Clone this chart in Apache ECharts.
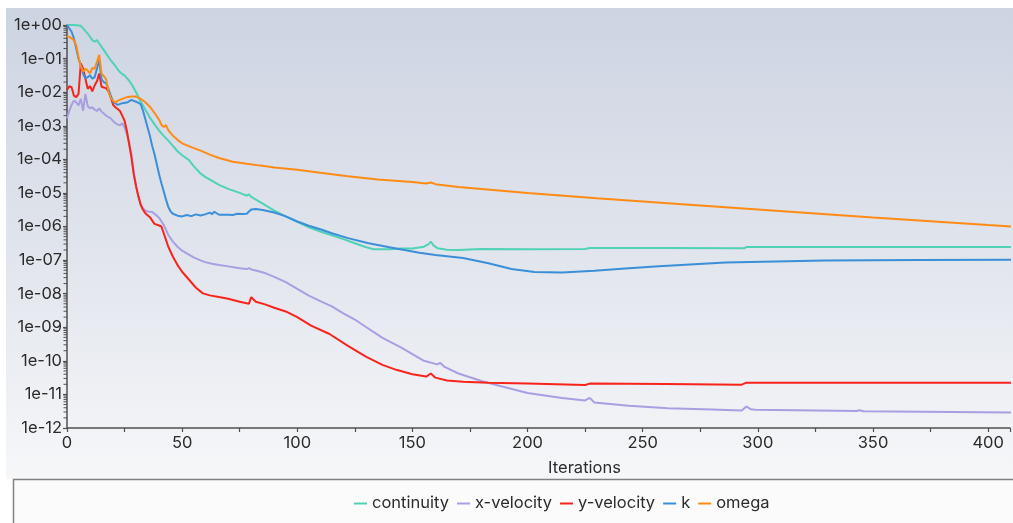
<!DOCTYPE html>
<html>
<head>
<meta charset="utf-8">
<script src="https://cdn.jsdelivr.net/npm/echarts@6/dist/echarts.min.js"></script>
<style>
  html, body { margin: 0; padding: 0; background: #ffffff; }
  #chart { width: 1013px; height: 523px; }
</style>
</head>
<body>
<div id="chart"></div>
<script>
// Residual history of the solver, one iteration array per equation.
const seriesNames = ['continuity', 'x-velocity', 'y-velocity', 'k', 'omega'];
const seriesColors = ['#4fd2b5', '#a99ee2', '#f8231b', '#3a8fd8', '#ff8a14'];

const continuityIter = [0, 3, 6, 7, 8, 9, 10, 11, 12, 13, 14, 15, 16, 17, 18, 19, 20, 21, 22, 23, 24, 25, 26, 27, 28, 29, 30, 31, 32, 33, 34, 35, 36, 38, 40, 42, 44, 46, 48, 50, 53, 55, 58, 60, 63, 66, 70, 75, 78, 79, 80, 85, 90, 95, 100, 105, 110, 115, 120, 125, 130, 133, 140, 145, 150, 155, 157, 158, 159, 161, 165, 170, 180, 200, 225, 227, 260, 294, 295, 410];
const continuity = [1.0, 1.0, 0.95, 0.79, 0.66, 0.55, 0.447, 0.355, 0.316, 0.355, 0.282, 0.224, 0.178, 0.141, 0.112, 8.9e-2, 7.4e-2, 6.0e-2, 4.8e-2, 3.98e-2, 3.47e-2, 3.16e-2, 2.63e-2, 2.19e-2, 1.74e-2, 1.32e-2, 1.0e-2, 7.2e-3, 5.2e-3, 3.98e-3, 3.0e-3, 2.3e-3, 1.74e-3, 1.1e-3, 7.2e-4, 5.0e-4, 3.6e-4, 2.5e-4, 1.74e-4, 1.32e-4, 9.5e-5, 6.3e-5, 3.8e-5, 3.0e-5, 2.3e-5, 1.74e-5, 1.32e-5, 1.0e-5, 8.3e-6, 9.1e-6, 7.6e-6, 4.8e-6, 2.95e-6, 2.0e-6, 1.38e-6, 9.5e-7, 7.1e-7, 5.5e-7, 4.2e-7, 3.16e-7, 2.4e-7, 2.1e-7, 2.1e-7, 2.2e-7, 2.2e-7, 2.5e-7, 3.0e-7, 3.55e-7, 2.8e-7, 2.24e-7, 2.04e-7, 2.0e-7, 2.14e-7, 2.1e-7, 2.14e-7, 2.3e-7, 2.3e-7, 2.24e-7, 2.45e-7, 2.45e-7];

const xVelocityIter = [0, 1, 2, 3, 4, 5, 6, 7, 8, 9, 10, 11, 12, 13, 14, 15, 16, 17, 18, 19, 20, 21, 22, 23, 24, 25, 26, 27, 28, 29, 30, 31, 32, 33, 34, 35, 36, 37, 38, 40, 42, 44, 46, 48, 50, 52, 55, 58, 60, 63, 66, 70, 75, 78, 79, 80, 82, 86, 90, 95, 100, 105, 110, 115, 120, 125, 130, 137, 145, 150, 155, 160, 161, 162, 164, 170, 180, 186, 200, 215, 225, 227, 229, 244, 261, 280, 293, 295, 297, 299, 343, 344, 346, 410];
const xVelocity = [1.66e-3, 2.8e-3, 4.2e-3, 5.6e-3, 5.0e-3, 4.0e-3, 6.3e-3, 2.8e-3, 8.9e-3, 3.8e-3, 3.3e-3, 3.55e-3, 3.0e-3, 2.75e-3, 3.3e-3, 2.63e-3, 2.3e-3, 2.0e-3, 1.82e-3, 1.66e-3, 1.38e-3, 1.2e-3, 1.1e-3, 1.02e-3, 1.2e-3, 8.9e-4, 5.6e-4, 3.16e-4, 1.41e-4, 4.0e-5, 1.58e-5, 7.9e-6, 4.8e-6, 3.47e-6, 3.0e-6, 2.8e-6, 2.75e-6, 2.7e-6, 2.4e-6, 1.82e-6, 1.12e-6, 5.6e-7, 3.55e-7, 2.5e-7, 1.9e-7, 1.58e-7, 1.2e-7, 9.8e-8, 8.7e-8, 7.8e-8, 7.1e-8, 6.5e-8, 5.75e-8, 5.4e-8, 5.75e-8, 5.25e-8, 4.9e-8, 4.1e-8, 3.16e-8, 2.2e-8, 1.38e-8, 8.7e-9, 6.0e-9, 4.2e-9, 2.6e-9, 1.7e-9, 1.0e-9, 4.8e-10, 2.5e-10, 1.58e-10, 1.0e-10, 8.1e-11, 7.9e-11, 8.7e-11, 6.6e-11, 4.2e-11, 2.5e-11, 1.95e-11, 1.1e-11, 7.8e-12, 6.6e-12, 7.9e-12, 5.75e-12, 4.6e-12, 3.9e-12, 3.55e-12, 3.3e-12, 4.4e-12, 3.6e-12, 3.5e-12, 3.2e-12, 3.4e-12, 3.16e-12, 2.9e-12];

const yVelocityIter = [0, 1, 2, 3, 4, 5, 6, 7, 8, 9, 10, 11, 12, 13, 14, 15, 16, 17, 18, 19, 20, 21, 22, 23, 24, 25, 26, 27, 28, 29, 30, 31, 32, 33, 34, 36, 38, 40, 41, 42, 44, 46, 48, 50, 53, 56, 59, 62, 66, 70, 75, 79, 80, 82, 86, 90, 95, 100, 106, 114, 122, 130, 137, 143, 150, 156, 158, 160, 165, 172, 183, 200, 225, 227, 260, 293, 295, 410];
const yVelocity = [1.17e-2, 1.5e-2, 1.4e-2, 7.9e-3, 7.1e-3, 8.9e-3, 7.2e-2, 5.0e-2, 2.5e-2, 1.26e-2, 1.5e-2, 1.05e-2, 1.58e-2, 2.1e-2, 3.6e-2, 1.45e-2, 1.38e-2, 1.32e-2, 1.05e-2, 7.1e-3, 4.2e-3, 3.55e-3, 3.16e-3, 2.75e-3, 2.0e-3, 1.41e-3, 7.1e-4, 2.8e-4, 1.12e-4, 3.55e-5, 1.58e-5, 7.9e-6, 4.4e-6, 3.16e-6, 2.5e-6, 1.9e-6, 1.2e-6, 1.07e-6, 1.0e-6, 6.3e-7, 2.5e-7, 1.26e-7, 7.1e-8, 4.5e-8, 2.6e-8, 1.5e-8, 1.02e-8, 8.9e-9, 7.9e-9, 7.1e-9, 5.75e-9, 5.0e-9, 7.9e-9, 5.75e-9, 4.8e-9, 3.8e-9, 2.95e-9, 2.0e-9, 1.12e-9, 6.3e-10, 2.8e-10, 1.32e-10, 7.6e-11, 5.4e-11, 4.0e-11, 3.4e-11, 4.2e-11, 3.16e-11, 2.6e-11, 2.4e-11, 2.24e-11, 2.1e-11, 1.9e-11, 2.1e-11, 2.04e-11, 1.95e-11, 2.24e-11, 2.24e-11];

const kIter = [0, 1, 2, 3, 4, 5, 6, 7, 8, 9, 10, 11, 12, 13, 14, 15, 16, 17, 18, 19, 20, 21, 22, 24, 26, 28, 30, 32, 33, 34, 35, 36, 37, 38, 39, 40, 41, 42, 43, 44, 45, 46, 48, 50, 52, 54, 56, 58, 60, 62, 63, 64, 66, 70, 72, 74, 76, 78, 80, 82, 85, 90, 95, 100, 105, 110, 115, 122, 131, 140, 153, 160, 172, 183, 193, 203, 215, 229, 244, 257, 286, 329, 370, 410];
const k = [1.0, 0.79, 0.63, 0.4, 0.2, 0.1, 6.3e-2, 3.55e-2, 2.57e-2, 2.8e-2, 3.2e-2, 2.5e-2, 2.8e-2, 5.0e-2, 8.9e-2, 2.4e-2, 2.0e-2, 1.82e-2, 1.26e-2, 7.9e-3, 5.2e-3, 4.6e-3, 4.2e-3, 4.7e-3, 4.9e-3, 5.9e-3, 5.2e-3, 4.4e-3, 2.8e-3, 1.58e-3, 8.9e-4, 5.0e-4, 2.5e-4, 1.41e-4, 7.1e-5, 3.55e-5, 1.95e-5, 1.12e-5, 6.3e-6, 3.8e-6, 2.8e-6, 2.4e-6, 2.1e-6, 2.0e-6, 2.2e-6, 2.04e-6, 2.3e-6, 2.14e-6, 2.3e-6, 2.6e-6, 2.34e-6, 2.75e-6, 2.24e-6, 2.24e-6, 2.2e-6, 2.4e-6, 2.34e-6, 2.4e-6, 3.2e-6, 3.3e-6, 3.1e-6, 2.6e-6, 2.0e-6, 1.41e-6, 1.05e-6, 8.3e-7, 6.3e-7, 4.5e-7, 3.16e-7, 2.4e-7, 1.66e-7, 1.41e-7, 1.15e-7, 8.1e-8, 5.4e-8, 4.4e-8, 4.3e-8, 4.8e-8, 5.75e-8, 6.5e-8, 8.5e-8, 9.8e-8, 1.0e-7, 1.02e-7];

const omegaIter = [0, 1, 2, 3, 4, 5, 6, 7, 8, 9, 10, 11, 12, 13, 14, 15, 16, 17, 18, 19, 20, 21, 22, 24, 26, 28, 30, 32, 34, 36, 38, 40, 41, 42, 43, 44, 46, 48, 50, 54, 58, 62, 66, 72, 78, 84, 90, 100, 110, 122, 135, 150, 156, 158, 160, 170, 200, 230, 261, 300, 350, 400, 410];
const omega = [0.47, 0.44, 0.4, 0.355, 0.25, 0.112, 5.75e-2, 4.1e-2, 5.0e-2, 4.4e-2, 3.6e-2, 5.25e-2, 5.0e-2, 7.9e-2, 0.129, 3.55e-2, 3.0e-2, 2.4e-2, 1.05e-2, 6.6e-3, 5.6e-3, 5.0e-3, 5.5e-3, 6.3e-3, 7.1e-3, 7.4e-3, 7.4e-3, 6.3e-3, 5.0e-3, 3.7e-3, 2.4e-3, 1.51e-3, 1.07e-3, 9.1e-4, 1.05e-3, 7.4e-4, 5.0e-4, 3.8e-4, 3.0e-4, 2.3e-4, 1.82e-4, 1.38e-4, 1.1e-4, 8.5e-5, 7.4e-5, 6.5e-5, 5.75e-5, 4.9e-5, 4.0e-5, 3.16e-5, 2.5e-5, 2.1e-5, 1.9e-5, 2.04e-5, 1.82e-5, 1.51e-5, 1.0e-5, 6.9e-6, 4.9e-6, 3.2e-6, 1.86e-6, 1.1e-6, 1.0e-6];

const xTickLabels = [0, 50, 100, 150, 200, 250, 300, 350, 400];
const yDecadeMin = -12;
const yDecadeMax = 0;

const seriesIters = [continuityIter, xVelocityIter, yVelocityIter, kIter, omegaIter];
const seriesValues = [continuity, xVelocity, yVelocity, k, omega];

function pairs(xs, ys) {
  return xs.map(function (x, i) { return [x, ys[i]]; });
}

// Intermediate log ticks (2..9 within each decade) for the residual axis.
const minorTickValues = [];
for (let e = yDecadeMin; e < yDecadeMax; e++) {
  for (let m = 2; m <= 9; m++) minorTickValues.push([0, m * Math.pow(10, e)]);
}

function expLabel(v) {
  const e = Math.round(Math.log10(v));
  const sign = e < 0 ? '-' : '+';
  const a = Math.abs(e);
  return '1e' + sign + (a < 10 ? '0' + a : '' + a);
}

const FONT = 'Inter, "Noto Sans", sans-serif';
const FS = 16.5;
const TEXT = '#2b2b2b';
const AXIS = '#505050';
const chart = echarts.init(document.getElementById('chart'), null, { renderer: 'canvas' });

const lineSeries = seriesNames.map(function (name, i) {
  return {
    name: name,
    type: 'line',
    data: pairs(seriesIters[i], seriesValues[i]),
    showSymbol: false,
    symbol: 'none',
    color: seriesColors[i],
    lineStyle: { width: 2, color: seriesColors[i] },
    clip: true
  };
});

lineSeries.push({
  name: 'minor-ticks',
  type: 'custom',
  silent: true,
  clip: false,
  z: 5,
  data: minorTickValues,
  renderItem: function (params, api) {
    const p = api.coord([api.value(0), api.value(1)]);
    return {
      type: 'line',
      shape: { x1: p[0] - 3.5, y1: p[1], x2: p[0], y2: p[1] },
      style: { stroke: AXIS, lineWidth: 1 }
    };
  }
});

chart.setOption({
  backgroundColor: '#ffffff',
  animation: false,
  textStyle: { fontFamily: FONT },
  graphic: [
    {
      type: 'rect',
      z: -100,
      silent: true,
      shape: { x: 6, y: 8, width: 1100, height: 471 },
      style: {
        fill: {
          type: 'linear', x: 0, y: 0, x2: 0, y2: 1,
          colorStops: [
            { offset: 0, color: '#cdd4e2' },
            { offset: 0.5, color: '#e0e4ec' },
            { offset: 1, color: '#f6f7f9' }
          ]
        }
      }
    },
    {
      type: 'rect',
      z: -90,
      silent: true,
      shape: { x: 13.5, y: 479.5, width: 1100, height: 100 },
      style: { fill: '#fbfbfc', stroke: '#808080', lineWidth: 1.5 }
    }
  ],
  legend: {
    data: seriesNames,
    left: 354,
    top: 495,
    padding: 0,
    itemWidth: 13,
    itemHeight: 2,
    itemGap: 8,
    icon: 'rect',
    textStyle: { fontFamily: FONT, fontSize: FS, color: TEXT }
  },
  grid: { left: 67, right: 0, top: 25, bottom: 95, containLabel: false },
  xAxis: {
    type: 'value',
    min: 0,
    max: 409.5,
    interval: 25,
    name: 'Iterations',
    nameLocation: 'middle',
    nameGap: 32,
    nameTextStyle: { fontFamily: FONT, fontSize: FS, color: TEXT, padding: [0, 0, 0, 92] },
    axisLine: { show: true, lineStyle: { color: AXIS, width: 1.5 } },
    axisTick: { show: true, length: 4, lineStyle: { color: AXIS, width: 1.2 } },
    axisLabel: {
      fontFamily: FONT, fontSize: FS, color: TEXT, margin: 7,
      formatter: function (v) { return xTickLabels.indexOf(v) >= 0 ? String(v) : ''; }
    },
    splitLine: { show: false }
  },
  yAxis: {
    type: 'log',
    logBase: 10,
    min: Math.pow(10, yDecadeMin),
    max: Math.pow(10, yDecadeMax),
    interval: 1,
    axisLine: { show: true, onZero: false, lineStyle: { color: AXIS, width: 1.5 } },
    axisTick: { show: true, length: 4, lineStyle: { color: AXIS, width: 1.2 } },
    axisLabel: { fontFamily: FONT, fontSize: FS, color: TEXT, margin: 5, formatter: expLabel },
    splitLine: { show: false }
  },
  series: lineSeries
});
</script>
</body>
</html>
